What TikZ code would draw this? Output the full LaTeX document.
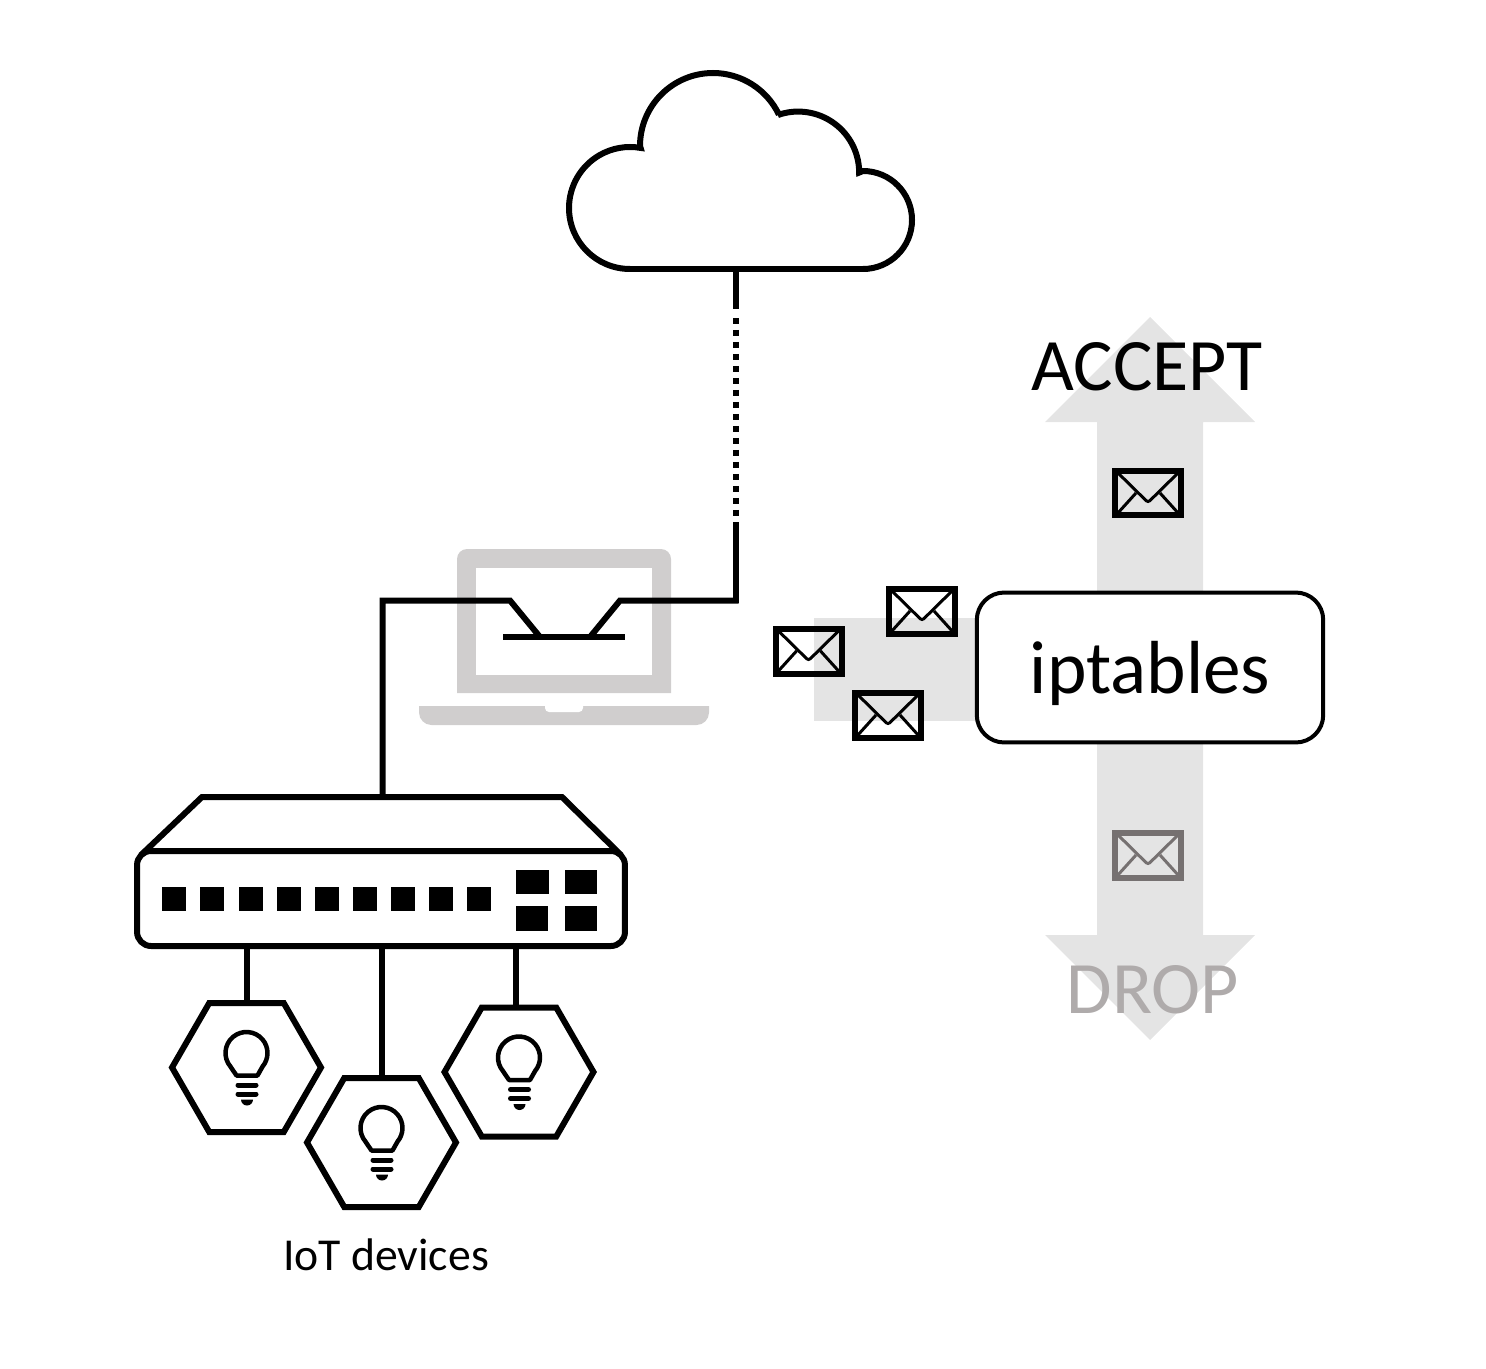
\documentclass[tikz,border=0pt]{standalone}
\usepackage{fontspec}
\setmainfont{Carlito}
\usetikzlibrary{shapes.geometric}
\definecolor{flowgrey}{RGB}{228,228,228}
\definecolor{laptopgrey}{RGB}{208,206,206}
\definecolor{dropgrey}{RGB}{175,171,171}
\definecolor{dropmail}{RGB}{118,113,113}
\tikzset{
  wire/.style={line width=0.12cm, draw=black},
  wire dots/.style={line width=0.12cm, draw=black, dash pattern=on 0.12cm off 0.12cm},
  device hex/.style={
    regular polygon, regular polygon sides=6, draw=black, line width=0.12cm,
    minimum size=2.98cm, inner sep=0pt, outer sep=0pt
  },
  switch body/.style={
    rectangle, rounded corners=0.28cm, draw=black, line width=0.12cm, fill=white,
    minimum width=9.76cm, minimum height=1.9cm, inner sep=0pt, outer sep=0pt
  },
  filter box/.style={
    rectangle, rounded corners=0.55cm, draw=black, line width=0.08cm, fill=white,
    minimum width=6.93cm, minimum height=3cm, inner sep=0pt, outer sep=0pt,
    text height=1.3cm, text depth=0.27cm,
    font=\fontsize{42.8}{50}\selectfont
  },
  big label/.style={inner sep=0pt, font=\fontsize{42.1}{50}\selectfont},
  small label/.style={inner sep=0pt, font=\fontsize{26}{30}\selectfont},
  mail box/.style={
    rectangle, draw=#1, line width=0.12cm,
    minimum width=1.32cm, minimum height=0.9cm, inner sep=0pt, outer sep=0pt
  },
  pics/mail flap/.style={
    code={
      \draw[line width=0.06cm, draw=#1, rounded corners=0.05cm] (-31,-21) -- (0,9.5) -- (31,-21);
      \draw[line width=0.06cm, draw=#1] (-31,21) -- (-12,0) (31,21) -- (12,0);
    }
  },
  pics/bulb/.style={
    code={
      \draw[line width=0.09cm, line join=round] (-10,8) -- (-16.1,-1)
        arc[start angle=140, end angle=400, radius=21] -- (11,8) -- cycle;
      \draw[line width=0.1cm, line cap=round] (-8.5,17.5) -- (9.5,17.5) (-8.5,26.5) -- (9.5,26.5);
      \fill (-5.5,32) arc[start angle=180, end angle=0, radius=6] -- cycle;
    }
  }
}
\newcommand{\mailnode}[3]{
  \node[mail box=#3] (#1) at (#2) {};
  \pic at (#1.center) {mail flap=#3};
}
\begin{document}
\begin{tikzpicture}[x=0.02cm, y=-0.02cm]
  \useasboundingbox (0,0) rectangle (1486,1368);

  \fill[flowgrey] (1150,317) -- (1255,422) -- (1203,422) -- (1203,935) -- (1255,935)
    -- (1150,1040) -- (1045,935) -- (1097,935) -- (1097,422) -- (1045,422) -- cycle;
  \fill[flowgrey] (814,618) rectangle (1000,721);

  \fill[laptopgrey] (457,693) [rounded corners=0.2cm] -- (457,549) -- (671,549) [sharp corners] -- (671,693) -- cycle;
  \fill[white] (476,568) rectangle (652,675);
  \fill[laptopgrey] (419,706) [rounded corners=0.25cm] -- (419,725) -- (709,725) [sharp corners] -- (709,706) -- cycle;
  \fill[white, rounded corners=0.08cm] (545,700) rectangle (583,712);

  \draw[wire, line join=miter] (630,269) arc[start angle=90, end angle=280, radius=61]
    -- (640,146) arc[start angle=180, end angle=334.5, radius=73]
    -- (778,115) arc[start angle=250.7, end angle=360, radius=61]
    -- (863,171) arc[start angle=270, end angle=450, radius=49] -- cycle;
  \coordinate (cloudfoot) at (736,269);
  \coordinate (dotstart) at (736,318);
  \coordinate (dotend) at (736,522);
  \coordinate (gateright) at (736,603);

  \node[filter box] (iptables) at (1150,667.5) {iptables};
  \node[big label] (accept) at (1147,367) {ACCEPT};
  \node[big label, text=dropgrey] (drop) at (1153,990) {DROP};

  \mailnode{mailaccept}{1148,493}{black}
  \mailnode{maildrop}{1148,855}{dropmail}
  \mailnode{mailleft}{808.5,651}{black}
  \mailnode{mailtop}{922,611}{black}
  \mailnode{mailbottom}{888,715}{black}

  \node[switch body] (switch) at (381,898.5) {};
  \coordinate (switchtop) at (382.5,797);
  \draw[wire, line join=miter] (141,855) -- (202,797) -- (562,797) -- (621,855);
  \foreach \portx in {161.5,199.5,238.5,276.5,314.5,352.5,391,429,467}
    \fill (\portx,886.5) rectangle +(24,24);
  \fill (515.5,869.5) rectangle +(33,24);
  \fill (564.5,869.5) rectangle +(32,24);
  \fill (516,905.5) rectangle +(32,25);
  \fill (565,905.5) rectangle +(32,25);

  \node[device hex] (hexleft) at (246.5,1067.5) {};
  \node[device hex] (hexmiddle) at (381.5,1142.5) {};
  \node[device hex] (hexright) at (519,1072) {};
  \pic at (hexleft.center) {bulb};
  \pic at (hexmiddle.center) {bulb};
  \pic at (hexright.center) {bulb};
  \node[small label] (devices) at (386,1255) {IoT devices};

  \draw[wire] (hexleft.north) -- (hexleft.north |- switch.south);
  \draw[wire] (hexmiddle.north) -- (hexmiddle.north |- switch.south);
  \draw[wire] ([xshift=-0.06cm]hexright.north) -- ([xshift=-0.06cm]hexright.north |- switch.south);

  \draw[wire] (cloudfoot) -- (736,309);
  \draw[wire dots] (dotstart) -- (736,517);
  \draw[wire] (dotend) -- (gateright);
  \draw[wire] (738.5,600.5) -- (620,600.5) -- (590,637);
  \draw[wire] (switchtop) -- (382.5,600.5) -- (510,600.5) -- (540,637);
  \draw[wire] (503,637) -- (625,637);
\end{tikzpicture}
\end{document}
